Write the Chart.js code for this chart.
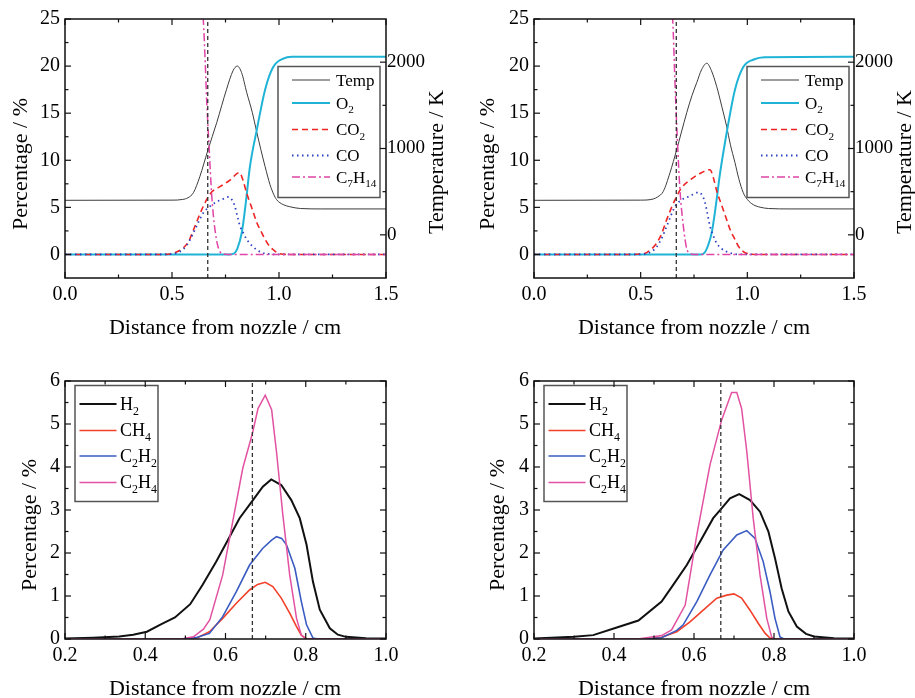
<!DOCTYPE html>
<html>
<head>
<meta charset="utf-8">
<script src="https://cdn.jsdelivr.net/npm/chart.js@4.4.1/dist/chart.umd.min.js"></script>
<style>
  body { margin: 0; background: #fff; }
  #wrap { position: relative; width: 915px; height: 698px; overflow: hidden; }
  canvas { position: absolute; }
</style>
</head>
<body>
<div id="wrap">
  <canvas id="chartA" width="457" height="345" style="left:0;top:0"></canvas>
  <canvas id="chartB" width="457" height="345" style="left:458px;top:0"></canvas>
  <canvas id="chartC" width="457" height="353" style="left:0;top:345px"></canvas>
  <canvas id="chartD" width="457" height="353" style="left:458px;top:345px"></canvas>
</div>
<script>
// axis ticks
const topDistTicks = [0, 0.5, 1.0, 1.5];
const topDistMinor = [0.25, 0.75, 1.25];
const pctTicks = [0, 5, 10, 15, 20, 25];
const pctMinor = [2.5, 7.5, 12.5, 17.5, 22.5];
const tempTicks = [0, 1000, 2000];
const tempMinor = [500, 1500];
const botDistTicks = [0.2, 0.4, 0.6, 0.8, 1.0];
const botDistMinor = [0.3, 0.5, 0.7, 0.9];
const botPctTicks = [0, 1, 2, 3, 4, 5, 6];
const botPctMinor = [0.5, 1.5, 2.5, 3.5, 4.5, 5.5];

// dashed line position (cm)
const flameFront = 0.667;

// ---- top left: [distance cm, value]
const tempA = [[0, 400], [0.5, 402], [0.55, 410], [0.575, 430], [0.6, 488], [0.63, 674], [0.667, 975], [0.709, 1300],
  [0.755, 1686], [0.785, 1900], [0.805, 1955], [0.825, 1880], [0.849, 1650], [0.875, 1420], [0.896, 1190], [0.915, 990],
  [0.935, 791], [0.958, 581], [0.975, 470], [0.989, 407], [1.02, 350], [1.05, 326], [1.1, 305], [1.2, 300], [1.5, 300]];
const o2A = [[0, 0], [0.77, 0], [0.79, 0.1], [0.805, 0.6], [0.826, 2.3], [0.845, 5.5], [0.864, 9.3], [0.896, 13.2],
  [0.935, 17.5], [0.973, 19.9], [1.02, 20.8], [1.06, 21], [1.5, 21]];
const co2A = [[0, 0], [0.45, 0], [0.5, 0.1], [0.553, 0.7], [0.58, 1.5], [0.6, 2.6], [0.625, 4.0], [0.646, 5.1], [0.677, 6.4],
  [0.7, 6.9], [0.724, 7.2], [0.771, 7.9], [0.815, 8.7], [0.83, 8.0], [0.849, 6.5], [0.875, 4.8], [0.896, 3.4], [0.915, 2.5],
  [0.935, 1.6], [0.955, 0.9], [0.973, 0.5], [1.0, 0.1], [1.05, 0], [1.5, 0]];
const coA = [[0, 0], [0.45, 0], [0.5, 0.05], [0.537, 0.3], [0.57, 1.0], [0.6, 2.3], [0.625, 3.5], [0.646, 4.4], [0.677, 5.1],
  [0.709, 5.6], [0.74, 5.9], [0.763, 6.1], [0.78, 5.8], [0.794, 5.1], [0.806, 4.0], [0.818, 3.0], [0.835, 2.2], [0.849, 1.6],
  [0.875, 0.9], [0.896, 0.5], [0.92, 0.2], [0.95, 0.05], [1.0, 0], [1.5, 0]];
const c7h14A = [[0, 28], [0.62, 28], [0.64, 26], [0.646, 25], [0.655, 20.5], [0.662, 16.4], [0.674, 11.1], [0.685, 6.5],
  [0.693, 4.2], [0.701, 2.6], [0.712, 1.1], [0.724, 0.3], [0.74, 0.05], [0.76, 0], [1.5, 0]];

// ---- top right
const tempB = [[0, 400], [0.5, 402], [0.559, 415], [0.58, 440], [0.606, 503], [0.6375, 720], [0.669, 988], [0.69, 1180],
  [0.716, 1415], [0.74, 1610], [0.763, 1764], [0.785, 1910], [0.81, 1988], [0.832, 1900], [0.856, 1721], [0.88, 1490],
  [0.903, 1256], [0.92, 1050], [0.942, 837], [0.96, 650], [0.981, 488], [1.0, 410], [1.028, 349], [1.06, 320], [1.1, 305],
  [1.2, 300], [1.5, 300]];
const o2B = [[0, 0], [0.78, 0], [0.8, 0.2], [0.815, 0.9], [0.833, 2.3], [0.85, 4.8], [0.872, 8.6], [0.903, 12.9],
  [0.942, 17.5], [0.981, 19.9], [1.03, 20.7], [1.08, 20.95], [1.5, 21]];
const co2B = [[0, 0], [0.45, 0], [0.5, 0.05], [0.528, 0.2], [0.575, 1.2], [0.6, 2.3], [0.622, 3.7], [0.645, 5.0], [0.661, 5.8],
  [0.692, 7.1], [0.731, 7.9], [0.778, 8.6], [0.825, 9.0], [0.84, 8.2], [0.856, 6.8], [0.88, 5.2], [0.903, 3.7], [0.92, 2.6],
  [0.942, 1.6], [0.96, 0.8], [0.981, 0.3], [1.0, 0.1], [1.05, 0], [1.5, 0]];
const coB = [[0, 0], [0.45, 0], [0.52, 0.05], [0.55, 0.3], [0.575, 0.8], [0.6, 1.8], [0.622, 3.0], [0.645, 4.3], [0.661, 5.1],
  [0.692, 5.8], [0.731, 6.2], [0.773, 6.6], [0.79, 6.2], [0.802, 5.5], [0.813, 4.3], [0.825, 3.0], [0.84, 2.0], [0.856, 1.2],
  [0.88, 0.6], [0.903, 0.3], [0.93, 0.1], [0.96, 0], [1.5, 0]];
const c7h14B = [[0, 28], [0.63, 28], [0.645, 26], [0.65, 25], [0.661, 18.2], [0.672, 12.2], [0.684, 6.9], [0.7, 3.0],
  [0.708, 1.6], [0.716, 0.6], [0.73, 0.1], [0.75, 0], [1.5, 0]];

// ---- bottom left
const h2C = [[0.2, 0.01], [0.27, 0.03], [0.335, 0.06], [0.37, 0.1], [0.404, 0.17], [0.439, 0.34], [0.474, 0.5], [0.512, 0.81],
  [0.543, 1.26], [0.577, 1.8], [0.606, 2.3], [0.635, 2.81], [0.667, 3.21], [0.693, 3.54], [0.714, 3.71], [0.739, 3.58],
  [0.764, 3.23], [0.785, 2.81], [0.802, 2.19], [0.818, 1.33], [0.835, 0.68], [0.86, 0.25], [0.88, 0.1], [0.9, 0.05],
  [0.95, 0.02], [1.0, 0.01]];
const ch4C = [[0.2, 0], [0.49, 0], [0.53, 0.03], [0.56, 0.17], [0.593, 0.48], [0.627, 0.83], [0.66, 1.14], [0.68, 1.27],
  [0.699, 1.32], [0.718, 1.22], [0.739, 0.95], [0.76, 0.6], [0.777, 0.29], [0.789, 0.09], [0.802, 0], [1.0, 0]];
const c2h2C = [[0.2, 0], [0.49, 0], [0.53, 0.04], [0.56, 0.13], [0.593, 0.52], [0.627, 1.1], [0.66, 1.72], [0.693, 2.11],
  [0.715, 2.3], [0.727, 2.38], [0.74, 2.34], [0.752, 2.19], [0.773, 1.64], [0.789, 0.87], [0.802, 0.33], [0.818, 0.02],
  [0.83, 0], [1.0, 0]];
const c2h4C = [[0.2, 0], [0.49, 0], [0.52, 0.05], [0.545, 0.23], [0.561, 0.45], [0.593, 1.49], [0.618, 2.73], [0.643, 3.97],
  [0.667, 4.78], [0.681, 5.36], [0.699, 5.67], [0.715, 5.33], [0.727, 4.36], [0.743, 2.88], [0.76, 1.49], [0.777, 0.48],
  [0.789, 0.09], [0.8, 0], [1.0, 0]];

// ---- bottom right
const h2D = [[0.2, 0.01], [0.3, 0.05], [0.348, 0.09], [0.405, 0.26], [0.461, 0.43], [0.519, 0.87], [0.548, 1.26],
  [0.582, 1.72], [0.615, 2.26], [0.648, 2.81], [0.669, 3.04], [0.69, 3.27], [0.713, 3.37], [0.74, 3.23], [0.765, 2.96],
  [0.786, 2.5], [0.8025, 1.88], [0.819, 1.18], [0.836, 0.64], [0.857, 0.29], [0.88, 0.12], [0.9, 0.06], [0.95, 0.02],
  [1.0, 0.01]];
const ch4D = [[0.2, 0], [0.48, 0], [0.519, 0.04], [0.557, 0.17], [0.59, 0.4], [0.623, 0.67], [0.657, 0.95], [0.682, 1.02],
  [0.7, 1.05], [0.719, 0.95], [0.74, 0.67], [0.761, 0.36], [0.778, 0.13], [0.79, 0.02], [0.8, 0], [1.0, 0]];
const c2h2D = [[0.2, 0], [0.48, 0], [0.519, 0.03], [0.557, 0.2], [0.573, 0.33], [0.607, 0.87], [0.64, 1.49], [0.673, 2.07],
  [0.707, 2.42], [0.732, 2.52], [0.7525, 2.34], [0.773, 1.8], [0.79, 1.1], [0.8025, 0.48], [0.815, 0.05], [0.825, 0], [1.0, 0]];
const c2h4D = [[0.2, 0], [0.46, 0], [0.519, 0.08], [0.544, 0.21], [0.578, 0.79], [0.607, 2.42], [0.64, 4.05], [0.669, 5.09],
  [0.694, 5.73], [0.707, 5.73], [0.719, 5.36], [0.732, 4.36], [0.748, 2.81], [0.765, 1.49], [0.782, 0.48], [0.794, 0.05],
  [0.8, 0], [1.0, 0]];

const SERIF = '"Liberation Serif", "Times New Roman", serif';
Chart.defaults.font.family = SERIF;
Chart.defaults.color = '#000';

const colors = {
  temp: '#3c3c3c', o2: '#1fb4d6', co2: '#ee2424', co: '#2b40c2', c7h14: '#e044a6',
  h2: '#111111', ch4: '#f2402a', c2h2: '#3a5cc2', c2h4: '#e252a2', ref: '#333333'
};

function line(pairs, color, width, dash, extra) {
  return Object.assign({
    data: pairs.map(([x, y]) => ({ x, y })),
    borderColor: color, borderWidth: width, borderDash: dash || [],
    pointRadius: 0, fill: false, tension: 0
  }, extra || {});
}

// chemical formula, digits drawn as subscripts
function drawFormula(ctx, text, x, y, size) {
  text.split(/(\d+)/).forEach(part => {
    if (!part) return;
    const sub = /^\d+$/.test(part);
    ctx.font = (sub ? size * 0.66 : size) + 'px ' + SERIF;
    ctx.fillText(part, x, sub ? y + size * 0.27 : y);
    x += ctx.measureText(part).width;
  });
}

const decor = {
  id: 'decor',
  afterDatasetsDraw(chart, args, o) {
    const ctx = chart.ctx, a = chart.chartArea, sc = chart.scales;
    ctx.save();
    ctx.setLineDash([]);

    // legend
    const lg = o.legend;
    const bx = a.left + lg.dx, by = a.top + lg.dy;
    ctx.fillStyle = '#fff';
    ctx.fillRect(bx, by, lg.w, lg.h);
    ctx.strokeStyle = '#555';
    ctx.lineWidth = 1.5;
    ctx.strokeRect(bx, by, lg.w, lg.h);
    lg.items.forEach((it, i) => {
      const yy = by + lg.rows[i];
      ctx.strokeStyle = it.color;
      ctx.lineWidth = it.width;
      ctx.setLineDash(it.dash || []);
      ctx.beginPath();
      ctx.moveTo(bx + lg.x0, yy);
      ctx.lineTo(bx + lg.x1, yy);
      ctx.stroke();
      ctx.setLineDash([]);
      ctx.fillStyle = '#000';
      ctx.textAlign = 'left';
      ctx.textBaseline = 'alphabetic';
      drawFormula(ctx, it.label, bx + lg.tx, yy + lg.size * 0.33, lg.size);
    });

    // frame
    ctx.strokeStyle = '#111';
    ctx.lineWidth = 1.5;
    ctx.strokeRect(a.left, a.top, a.right - a.left, a.bottom - a.top);

    // inward ticks
    ctx.lineWidth = 1.2;
    o.marks.forEach(t => {
      const s = sc[t.scale];
      t.vals.forEach(v => {
        const p = s.getPixelForValue(v);
        t.sides.forEach(side => {
          ctx.beginPath();
          if (side === 'b') { ctx.moveTo(p, a.bottom); ctx.lineTo(p, a.bottom - t.len); }
          if (side === 't') { ctx.moveTo(p, a.top); ctx.lineTo(p, a.top + t.len); }
          if (side === 'l') { ctx.moveTo(a.left, p); ctx.lineTo(a.left + t.len, p); }
          if (side === 'r') { ctx.moveTo(a.right, p); ctx.lineTo(a.right - t.len, p); }
          ctx.stroke();
        });
      });
    });

    // axis titles
    ctx.fillStyle = '#000';
    ctx.font = '22px ' + SERIF;
    ctx.textAlign = 'center';
    o.titles.forEach(t => {
      ctx.save();
      ctx.translate(t.x, t.y);
      if (t.rot) ctx.rotate(-Math.PI / 2);
      ctx.textBaseline = t.rot ? 'middle' : 'alphabetic';
      ctx.fillText(t.text, 0, 0);
      ctx.restore();
    });
    ctx.restore();
  }
};

function axisFont() { return { size: 20, family: SERIF }; }
const noGrid = { display: false, drawTicks: false };

function makeChart(id, cfg) {
  const scales = {
    x: {
      type: 'linear', position: 'bottom', min: cfg.xMin, max: cfg.xMax,
      grid: noGrid, border: { display: false },
      ticks: { autoSkip: false, maxRotation: 0, padding: 5, font: axisFont(), color: '#000', callback: v => v.toFixed(1) },
      afterBuildTicks: s => { s.ticks = cfg.xTicks.map(v => ({ value: v })); },
      afterFit: s => { s.height = cfg.xH; }
    },
    y: {
      type: 'linear', position: 'left', min: cfg.yMin, max: cfg.yMax,
      grid: noGrid, border: { display: false },
      ticks: { autoSkip: false, padding: 5, font: axisFont(), color: '#000', callback: v => String(v) },
      afterBuildTicks: s => { s.ticks = cfg.yTicks.map(v => ({ value: v })); },
      afterFit: s => { s.width = cfg.yW; }
    }
  };
  if (cfg.y2W) {
    scales.y2 = {
      type: 'linear', position: 'right', min: -500, max: 2500,
      grid: noGrid, border: { display: false },
      ticks: { autoSkip: false, padding: 1, font: { size: 19, family: SERIF }, color: '#000', callback: v => String(v) },
      afterBuildTicks: s => { s.ticks = tempTicks.map(v => ({ value: v })); },
      afterFit: s => { s.width = cfg.y2W; }
    };
  }
  return new Chart(document.getElementById(id), {
    type: 'line',
    data: { datasets: cfg.datasets },
    options: {
      responsive: false, animation: false, events: [],
      layout: { padding: { top: cfg.padTop, right: cfg.padRight, left: 0, bottom: 0 } },
      plugins: {
        legend: { display: false }, tooltip: { enabled: false },
        decor: { legend: cfg.legend, marks: cfg.marks, titles: cfg.titles }
      },
      scales
    },
    plugins: [decor]
  });
}

const smooth = { cubicInterpolationMode: 'monotone' };

function topPanel(id, temp, o2, co2, co, c7h14, yW, y2W, titles) {
  makeChart(id, {
    xMin: 0, xMax: 1.5, yMin: -2.5, yMax: 25, xTicks: topDistTicks, yTicks: pctTicks,
    xH: 67, yW, y2W, padTop: 19, padRight: 0,
    datasets: [
      line([[flameFront, -2.5], [flameFront, 25]], colors.ref, 1.3, [4, 3]),
      line(c7h14, colors.c7h14, 1.5, [8, 3, 2, 3], smooth),
      line(co, colors.co, 1.8, [1.5, 3.5], smooth),
      line(co2, colors.co2, 1.6, [6, 4], smooth),
      line(o2, colors.o2, 2, [], smooth),
      line(temp, colors.temp, 1, [], Object.assign({ yAxisID: 'y2' }, smooth))
    ],
    legend: {
      dx: 213, dy: 47.5, w: 102, h: 131, x0: 14, x1: 52, tx: 58, size: 17,
      rows: [13.5, 36.5, 63, 89, 110.5],
      items: [
        { label: 'Temp', color: colors.temp, width: 1 },
        { label: 'O2', color: colors.o2, width: 2 },
        { label: 'CO2', color: colors.co2, width: 1.6, dash: [6, 4] },
        { label: 'CO', color: colors.co, width: 1.8, dash: [1.5, 3.5] },
        { label: 'C7H14', color: colors.c7h14, width: 1.5, dash: [8, 3, 2, 3] }
      ]
    },
    marks: [
      { scale: 'x', vals: topDistTicks, len: 6, sides: ['b', 't'] },
      { scale: 'x', vals: topDistMinor, len: 3.5, sides: ['b', 't'] },
      { scale: 'y', vals: pctTicks, len: 6, sides: ['l'] },
      { scale: 'y', vals: pctMinor, len: 3.5, sides: ['l'] },
      { scale: 'y2', vals: tempTicks, len: 6, sides: ['r'] },
      { scale: 'y2', vals: tempMinor, len: 3.5, sides: ['r'] }
    ],
    titles
  });
}

function bottomPanel(id, h2, ch4, c2h2, c2h4, yW, padRight, titles) {
  makeChart(id, {
    xMin: 0.2, xMax: 1.0, yMin: 0, yMax: 6, xTicks: botDistTicks, yTicks: botPctTicks,
    xH: 59, yW, padTop: 36, padRight,
    datasets: [
      line([[flameFront, 0], [flameFront, 6]], colors.ref, 1.3, [4, 3]),
      line(c2h4, colors.c2h4, 1.5),
      line(c2h2, colors.c2h2, 1.6),
      line(ch4, colors.ch4, 1.6),
      line(h2, colors.h2, 2)
    ],
    legend: {
      dx: 10, dy: 4.5, w: 83, h: 116, x0: 4.5, x1: 41.5, tx: 45, size: 18,
      rows: [18.5, 45, 70.5, 97],
      items: [
        { label: 'H2', color: colors.h2, width: 2 },
        { label: 'CH4', color: colors.ch4, width: 1.6 },
        { label: 'C2H2', color: colors.c2h2, width: 1.6 },
        { label: 'C2H4', color: colors.c2h4, width: 1.5 }
      ]
    },
    marks: [
      { scale: 'x', vals: botDistTicks, len: 6, sides: ['b', 't'] },
      { scale: 'x', vals: botDistMinor, len: 3.5, sides: ['b', 't'] },
      { scale: 'y', vals: botPctTicks, len: 6, sides: ['l', 'r'] },
      { scale: 'y', vals: botPctMinor, len: 3.5, sides: ['l', 'r'] }
    ],
    titles
  });
}

topPanel('chartA', tempA, o2A, co2A, coA, c7h14A, 65, 71, [
  { text: 'Percentage / %', x: 21, y: 164, rot: true },
  { text: 'Temperature / K', x: 437, y: 162, rot: true },
  { text: 'Distance from nozzle / cm', x: 225, y: 334 }
]);
topPanel('chartB', tempB, o2B, co2B, coB, c7h14B, 76, 61, [
  { text: 'Percentage / %', x: 30, y: 164, rot: true },
  { text: 'Temperature / K', x: 447, y: 162, rot: true },
  { text: 'Distance from nozzle / cm', x: 236, y: 334 }
]);
bottomPanel('chartC', h2C, ch4C, c2h2C, c2h4C, 65, 71, [
  { text: 'Percentage / %', x: 30, y: 180, rot: true },
  { text: 'Distance from nozzle / cm', x: 225, y: 350 }
]);
bottomPanel('chartD', h2D, ch4D, c2h2D, c2h4D, 76, 61, [
  { text: 'Percentage / %', x: 40, y: 180, rot: true },
  { text: 'Distance from nozzle / cm', x: 236, y: 350 }
]);
</script>
</body>
</html>
